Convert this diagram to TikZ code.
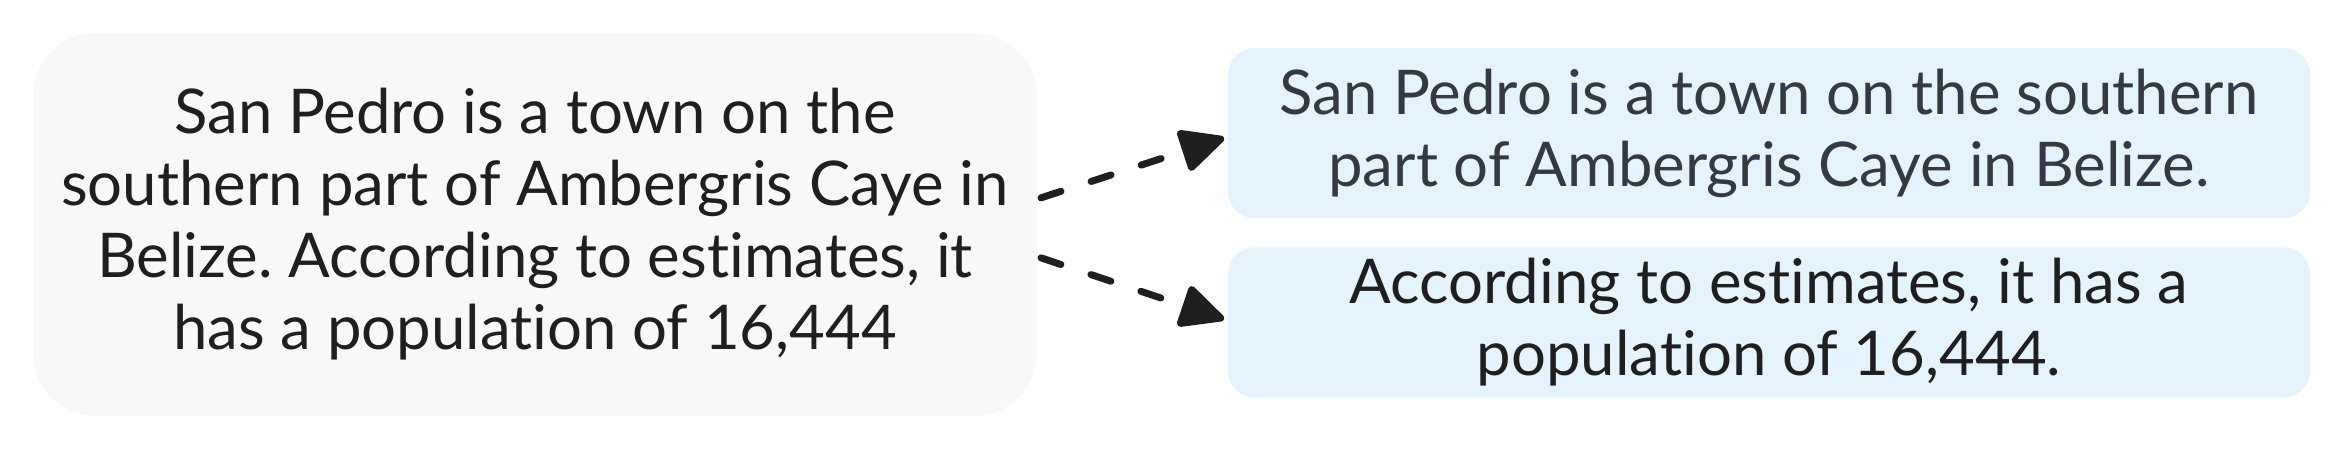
\documentclass[tikz,border=0pt]{standalone}
\usepackage{fontspec}
\setmainfont[Ligatures={NoCommon}]{Lato}
\usepackage{xcolor}
\usepackage{tikz}
\usetikzlibrary{arrows.meta}
\frenchspacing

\definecolor{srcfill}{HTML}{F7F8FA}
\definecolor{splitfill}{HTML}{E5F3FD}
\definecolor{inkdark}{HTML}{1F1F1F}
\definecolor{inkgray}{HTML}{343A40}

\begin{document}
\begin{tikzpicture}[
    x=0.3pt, y=-0.3pt,
    source/.style={rectangle, rounded corners=19pt, fill=srcfill, align=center, text=inkdark,
        minimum width=301.2pt, minimum height=114.9pt, font=\fontsize{18.5pt}{21.6pt}\selectfont},
    split/.style={rectangle, rounded corners=8pt, fill=splitfill, align=center, text=inkdark,
        minimum width=324.6pt, font=\fontsize{18.5pt}{21.6pt}\selectfont},
    link/.style={line width=2.1pt, line cap=round, dash pattern=on 6.3pt off 9.5pt,
        -{Triangle[length=14.5pt, width=13.5pt, round]}, draw=inkdark}
]
    \useasboundingbox (0,0) rectangle (2337,449);

    % Source sentence
    \node[source] (src) at (535,224.5) {San Pedro is a town on the\\southern part of Ambergris Caye in\\Belize. According to estimates, it\\has a population of 16,444};

    % Split sentences
    \node[split, minimum height=51pt, text=inkgray] (first) at (1769,133) {San Pedro is a town on the southern\\part of Ambergris Caye in Belize.};
    \node[split, minimum height=44.7pt] (second) at (1769,322.5) {According to estimates, it has a\\population of 16,444.};

    % Links
    \draw[link] ([xshift=1pt, yshift=8pt]src.east) -- ([xshift=-1pt, yshift=-1.5pt]first.west);
    \draw[link] ([xshift=1pt, yshift=-10pt]src.east) -- ([xshift=-1pt, yshift=1pt]second.west);
\end{tikzpicture}
\end{document}
